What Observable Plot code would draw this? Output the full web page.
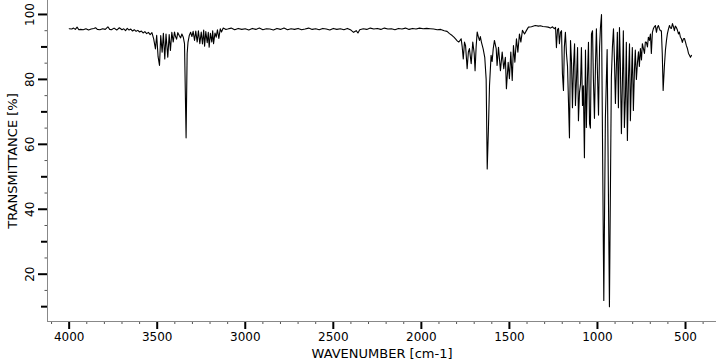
<!DOCTYPE html>
<html><head><meta charset="utf-8">
<script src="https://cdn.jsdelivr.net/npm/d3@7"></script>
<script src="https://cdn.jsdelivr.net/npm/@observablehq/plot@0.6"></script>
<style>body{margin:0;background:#fff;} svg{display:block;}</style>
</head><body><div id="chart"></div>
<script>
const wavenumber = [
4000,3985,3975,3965,3955,3945,3935,3920,3905,3890,3875,3860,3850,3840,3825,3810,3795,3780,3770,3760,3745,3730,3715,3700,3690,3680,3670,3660,3650,3640,3630,3620,3610,3600,3590,3580,3570,3560,3550,3540,3530,3520,3510,3503,3495,3487,3480,3472,3465,3457,3450,3440,3432,3425,3417,3409,3402,3396,3390,3383,3375,3367,3360,3352,3345,3336,3330,3325,3318,3310,3303,3296,3288,3281,3273,3266,3258,3250,3243,3236,3231,3224,3216,3210,3205,3198,3190,3185,3180,3172,3165,3158,3150,3142,3135,3125,3110,
3100,3080,3060,3040,3020,3000,2980,2960,2940,2920,2900,2880,2860,2840,2820,2800,2780,2760,2740,2720,2700,2680,2660,2640,2620,2600,2580,2560,2540,2520,2500,2480,2460,2440,2420,2400,2385,2370,2360,2350,2330,2310,2290,2270,2250,2230,2210,2190,2170,2150,2130,2110,2090,2070,2050,2030,2010,1990,1970,1950,1930,1910,1890,1870,1854,1840,1825,1815,1806,1795,1787,1774,1768,1762,1755,1749,1740,1733,1727,1717,1708,1700,1695,1689,1683,1676,1670,1665,1659,1649,1640,1632,1626,1619,1613,1604,1598,1592,1585,1575,1570,1562,1556,1551,1541,1532,1523,1517,1507,1500,1492,1484,1477,1469,1460,1452,1443,1435,1426,1414,1403,1392,1375,1353,1335,1324,1310,1295,1280,1267,1255,1245,1238,1233,1227,1221,1216,1210,1204,1199,1193,1188,1182,1176,1170,1159,1153,1147,1142,1136,1130,1125,1119,1113,1108,1102,1096,1091,1085,1080,1074,1068,1063,1057,1051,1045,1040,1034,1028,1023,1017,1011,1006,1000,994,988,983,977,964,955,945,932,921,915,909,903,898,892,887,881,875,870,864,858,853,847,841,836,830,824,818,813,808,802,796,790,785,779,773,767,762,756,750,745,739,733,728,722,716,711,705,699,694,688,682,677,671,665,660,654,648,643,637,632,627,620,614,608,603,597,591,585,580,574,569,563,558,552,546,540,535,529,523,518,512,506,500,495,489,483,478,472,466
];
const transmittance = [
95.6,95.5,95.8,95.4,96.1,95.3,95.4,95.3,95.6,95.2,95.5,95.7,95.9,95.4,95.3,95.6,95.4,96.2,95.4,95.3,95.8,95.2,95.9,95.3,95.6,95.0,95.7,95.2,95.5,94.9,95.3,94.8,95.1,94.6,94.9,94.3,94.7,94.1,94.5,93.8,94.4,92.5,89.4,93.6,87.0,84.3,93.5,88.4,94.2,86.3,94.0,86.8,93.8,88.9,94.5,91.5,94.6,93.2,92.4,94.4,93.5,92.8,94.0,93.0,91.0,62.0,88.0,91.5,93.5,94.5,93.2,94.8,92.0,94.9,91.5,95.0,91.0,94.6,90.9,95.2,90.2,94.7,91.3,94.5,89.9,94.2,91.5,95.0,91.0,94.3,93.0,95.3,92.6,95.6,94.6,95.8,95.4,
95.5,95.8,95.3,95.7,95.4,95.6,95.2,95.7,95.4,95.8,95.3,95.6,95.5,95.2,95.7,95.4,95.8,95.3,95.6,95.4,95.7,95.3,95.5,95.8,95.4,95.6,95.3,95.7,95.5,95.2,95.7,95.4,95.6,95.3,95.7,95.2,94.5,95.0,94.3,95.3,95.6,95.4,95.8,95.5,95.7,95.4,95.8,95.5,95.6,95.3,95.7,95.5,95.8,95.4,95.7,95.5,95.8,95.6,95.7,95.6,95.5,95.3,95.4,95.0,94.8,94.1,93.5,93.0,92.5,91.8,91.5,92.5,90.0,86.3,91.5,90.4,83.3,88.5,89.5,84.8,91.5,88.0,82.7,90.0,94.6,93.0,92.0,93.2,91.5,89.4,86.8,80.0,52.4,65.0,78.1,87.4,85.5,89.4,92.0,89.5,84.3,89.9,86.0,82.7,88.4,83.3,86.8,77.1,85.3,80.2,88.4,79.7,90.4,85.3,92.5,88.4,94.0,91.5,95.1,94.0,95.1,96.1,96.2,96.6,96.4,96.5,96.3,96.2,96.1,95.8,96.2,95.6,96.0,89.8,95.3,95.7,91.0,94.5,95.0,81.8,76.6,90.0,94.5,88.0,84.0,62.0,92.0,85.0,71.3,84.0,91.0,72.0,80.0,89.8,67.3,76.0,78.7,89.8,72.0,78.0,55.9,89.0,65.2,80.0,91.4,66.4,65.0,94.0,95.0,80.0,68.0,85.0,95.6,82.0,69.0,90.0,96.0,100.0,11.9,68.0,89.2,10.0,80.6,90.0,95.6,85.0,72.6,85.0,94.5,71.3,96.0,85.0,63.3,80.0,95.0,65.2,75.0,91.4,61.2,80.0,91.0,67.3,78.0,89.8,70.4,82.7,89.0,80.0,85.0,88.5,84.0,89.5,86.0,91.0,89.5,88.0,91.5,91.4,90.0,93.0,92.0,94.0,88.0,94.5,95.7,96.2,96.6,94.5,96.0,96.6,95.6,95.0,95.0,88.0,76.6,84.0,89.0,92.0,94.0,95.5,96.6,95.8,95.7,97.2,96.3,95.0,96.4,96.0,95.2,94.0,94.6,93.0,92.5,91.4,92.5,92.6,91.5,90.4,89.5,88.0,87.5,86.8,87.4
];
const xMajorTicks = [4000,3500,3000,2500,2000,1500,1000,500];
const xMinorTicks = [4100,3900,3800,3700,3600,3400,3300,3200,3100,2900,2800,2700,2600,2400,2300,2200,2100,1900,1800,1700,1600,1400,1300,1200,1100,900,800,700,600,400];
const yMajorTicks = [20,40,60,80,100];
const yMidTicks = [10,30,50,70,90];
const yMinorTicks = [15,25,35,45,55,65,75,85,95];
const xLabel = "WAVENUMBER [cm-1]";
const yLabel = "TRANSMITTANCE [%]";
const xDomain = [4123,324];
const yDomain = [5.43,104.3];

const data = wavenumber.map((w,i)=>({w, t: transmittance[i]}));

const chart = Plot.plot({
  width:716, height:364,
  marginLeft:47, marginRight:0, marginTop:0, marginBottom:43,
  style:{fontFamily:"DejaVu Sans", fontSize:"12px", color:"#000", background:"#fff", overflow:"visible"},
  x:{domain:xDomain},
  y:{domain:yDomain},
  marks:[
    Plot.axisX({ticks:xMinorTicks, tickSize:3, text:null, label:null, stroke:"#555"}),
    Plot.axisX({ticks:xMajorTicks, tickSize:8, strokeWidth:2, label:null, tickFormat:d=>String(d), fontSize:12, fill:"#000"}),
    Plot.axisY({ticks:yMinorTicks, tickSize:2.5, text:null, label:null, stroke:"#555"}),
    Plot.axisY({ticks:yMidTicks, tickSize:6, text:null, label:null, strokeWidth:2}),
    Plot.axisY({ticks:yMajorTicks, tickSize:9, text:null, label:null, strokeWidth:2}),
    Plot.text(yMajorTicks, {y:d=>d, text:d=>String(d), frameAnchor:"left", dx:-17, rotate:-90, textAnchor:"middle", lineAnchor:"middle", fontSize:12, fill:"#000"}),
    Plot.frame({anchor:"left", stroke:"#888"}),
    Plot.frame({anchor:"bottom", stroke:"#888"}),
    Plot.line(data, {x:"w", y:"t", stroke:"#000", strokeWidth:1.1}),
    Plot.text([xLabel], {frameAnchor:"bottom", dy:32, textAnchor:"middle", lineAnchor:"middle", fontSize:13, fill:"#000"}),
    Plot.text([yLabel], {frameAnchor:"left", dx:-35, rotate:-90, textAnchor:"middle", lineAnchor:"middle", fontSize:13, fill:"#000"})
  ]
});
document.getElementById("chart").appendChild(chart);
</script>
</body></html>
